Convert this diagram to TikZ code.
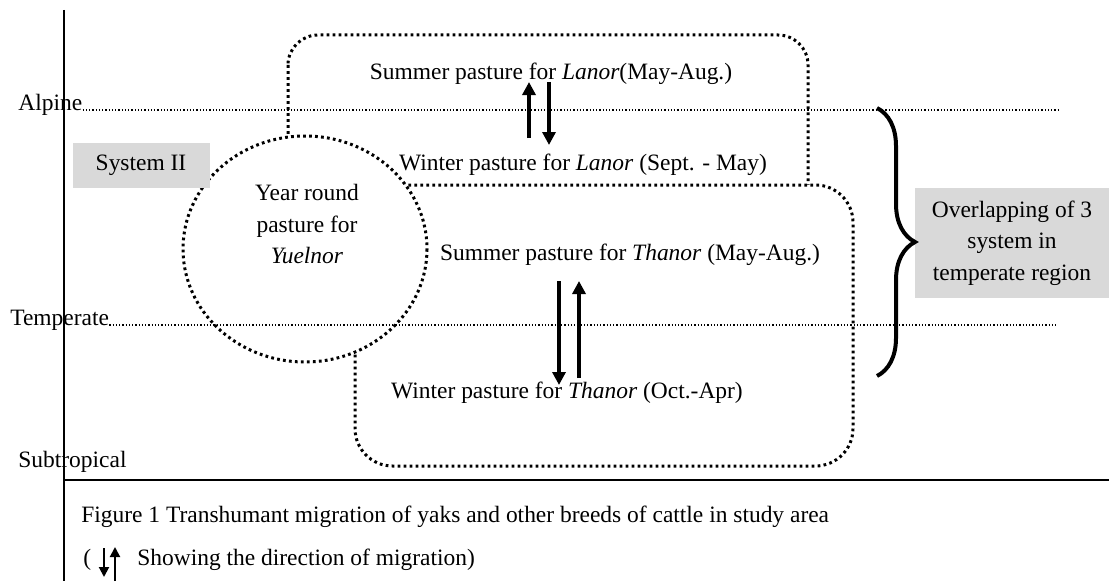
\documentclass[tikz,border=0pt]{standalone}
\usepackage{fontspec}
\setmainfont{Liberation Serif}
\usetikzlibrary{arrows.meta, decorations.pathreplacing}

\tikzstyle{zone} = [
    line width=0.25mm,
    dash pattern=on 0.25mm off 0.4mm
]
\tikzstyle{pasture} = [
    line width=0.6mm,
    dash pattern=on 0.55mm off 0.65mm,
    fill=white
]
\tikzstyle{txt} = [
    inner sep=0pt,
    anchor=base,
    font=\fontsize{13.35}{18}\selectfont
]
\tikzstyle{graybox} = [
    fill=black!15,
    inner sep=0pt,
    align=center,
    font=\fontsize{13.35}{18}\selectfont
]
\tikzstyle{arrow} = [line width=0.7mm, -{Triangle[length=2.6mm, width=2.6mm]}]
\tikzstyle{keyarrow} = [line width=0.4mm, -{Triangle[length=2mm, width=2mm]}]

\begin{document}
\begin{tikzpicture}[x=0.2mm, y=-0.2mm]
\useasboundingbox (0,0) rectangle (1109,581);

% pastures
\draw [pasture, rounded corners=6mm] (288,35) rectangle (808,215);
\draw [pasture, rounded corners=7.5mm] (355,185) rectangle (853,466);
\draw [pasture] (305,249) ellipse [x radius=122, y radius=113];

% altitude zones
\node (alpine) [txt, anchor=base west] at (18,110) {Alpine};
\node (temperate) [txt, anchor=base west] at (10,325) {Temperate};
\node (subtrop) [txt, anchor=base west] at (18,467) {Subtropical};
\draw [zone] (alpine.base east) -- ++(978,0);
\draw [zone] (temperate.base east) -- ++(948,0);
\draw [line width=0.25mm] (64,10) -- (64,581);
\draw [line width=0.25mm] (64,480) -- (1109,480);

\node (lanorS) [txt] at (551,80) {Summer pasture for \textit{Lanor}(May-Aug.)};
\node (lanorW) [txt] at (583,170) {Winter pasture for \textit{Lanor} (Sept. - May)};
\node (thanorS) [txt] at (630,260) {Summer pasture for \textit{Thanor} (May-Aug.)};
\node (thanorW) [txt] at (567,398) {Winter pasture for \textit{Thanor} (Oct.-Apr)};
\node (yuel) [txt, anchor=center, align=center] at (307,224)
{Year round\\pasture for\\\textit{Yuelnor}};

\node (sys) [graybox, minimum width=27.4mm, minimum height=9mm] at (141,165.5) {System II};
\node (over) [graybox, minimum width=38.8mm, minimum height=22mm] at (1012,243)
{Overlapping of 3\\system in\\temperate region};

\draw [decorate, decoration={brace, amplitude=7.6mm}, line width=0.8mm] (877,108) -- (877,376);

% migration
\coordinate (lanorUp1) at (529,138);
\coordinate (lanorUp2) at (529,82);
\coordinate (lanorDn1) at (549,82);
\coordinate (lanorDn2) at (549,145);
\coordinate (thanorDn1) at (559,281);
\coordinate (thanorDn2) at (559,385);
\coordinate (thanorUp1) at (579,378);
\coordinate (thanorUp2) at (579,281);
\draw [arrow] (lanorUp1) -- (lanorUp2);
\draw [arrow] (lanorDn1) -- (lanorDn2);
\draw [arrow] (thanorDn1) -- (thanorDn2);
\draw [arrow] (thanorUp1) -- (thanorUp2);

% caption
\node (fig) [txt, anchor=base west] at (81,522)
{Figure 1 Transhumant migration of yaks and other breeds of cattle in study area};
\node (open) [txt, anchor=base west] at (83,565) {(};
\node (show) [txt, anchor=base west] at (137,565) {Showing the direction of migration)};
\coordinate (keyDn1) at (104,548);
\coordinate (keyDn2) at (104,577);
\coordinate (keyUp1) at (115,581);
\coordinate (keyUp2) at (115,547);
\draw [keyarrow] (keyDn1) -- (keyDn2);
\draw [keyarrow] (keyUp1) -- (keyUp2);

\end{tikzpicture}
\end{document}
